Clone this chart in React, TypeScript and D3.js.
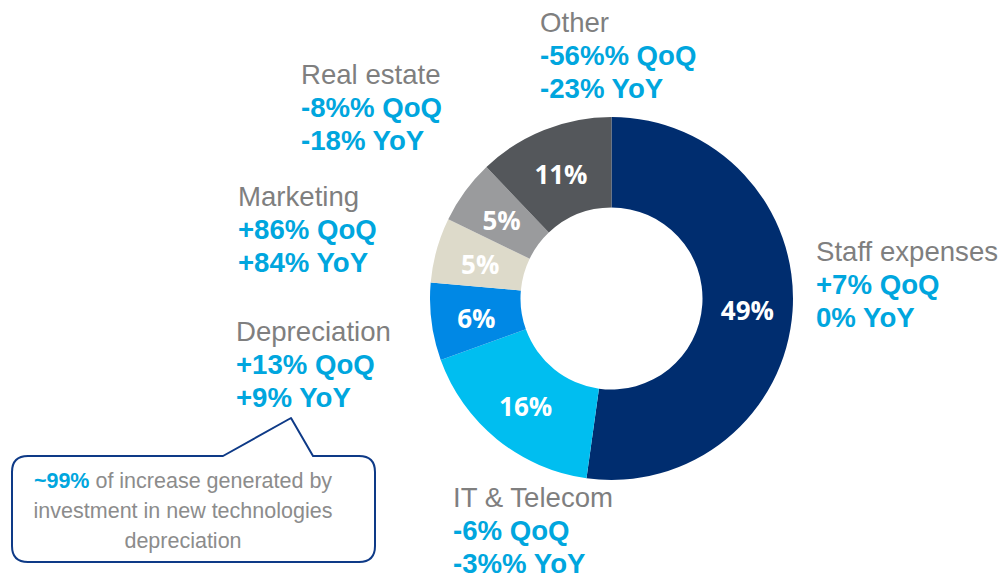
import React from "react";
import * as d3 from "d3";

const categories = ["Staff expenses", "IT & Telecom", "Depreciation", "Marketing", "Real estate", "Other"];
const shares = [52.2, 17.3, 6.9, 5.8, 5.7, 12.1];
const shareLabels = ["49%", "16%", "6%", "5%", "5%", "11%"];
const qoq = ["+7% QoQ", "-6% QoQ", "+13% QoQ", "+86% QoQ", "-8%% QoQ", "-56%% QoQ"];
const yoy = ["0% YoY", "-3%% YoY", "+9% YoY", "+84% YoY", "-18% YoY", "-23% YoY"];
const sliceColors = ["#002D6F", "#00BEF0", "#0088E5", "#DDDACA", "#9A9B9D", "#54575B"];

const calloutBold = "~99%";
const calloutLines = [" of increase generated by", "investment in new technologies", "depreciation"];

// layout (left anchor and first baseline of each label block)
const labelPos: [number, number][] = [
  [816, 261],
  [453, 507],
  [236, 341],
  [238, 206],
  [301, 84],
  [540, 32],
];

const W = 1004;
const H = 576;
const cx = 611.5;
const cy = 298.5;
const rOuter = 181.5;
const rInner = 91;

const GRAY = "#7F7F7F";
const BLUE = "#00A6DE";

export default function App() {
  const pie = d3
    .pie<number>()
    .sort(null)
    .value((d) => d)
    .startAngle(0)
    .endAngle(2 * Math.PI);
  const arcs = pie(shares);
  const arc = d3.arc<d3.PieArcDatum<number>>().innerRadius(rInner).outerRadius(rOuter);

  const lh = 33;
  const fontMain = "'Liberation Sans', Arial, sans-serif";

  // callout geometry
  const bx = 12, by = 456, bw = 363, bh = 106, br = 16;
  const p1 = 223, p2 = 313, apx = 291, apy = 418;
  const calloutPath =
    `M ${bx + br} ${by} L ${p1} ${by} L ${apx} ${apy} L ${p2} ${by} L ${bx + bw - br} ${by} ` +
    `Q ${bx + bw} ${by} ${bx + bw} ${by + br} L ${bx + bw} ${by + bh - br} ` +
    `Q ${bx + bw} ${by + bh} ${bx + bw - br} ${by + bh} L ${bx + br} ${by + bh} ` +
    `Q ${bx} ${by + bh} ${bx} ${by + bh - br} L ${bx} ${by + br} Q ${bx} ${by} ${bx + br} ${by} Z`;

  return (
    <svg
      width={W}
      height={H}
      style={{ position: "absolute", left: 0, top: 0, display: "block", background: "#fff" }}
    >
      <g transform={`translate(${cx},${cy})`}>
        {arcs.map((a, i) => (
          <path key={i} d={arc(a) || ""} fill={sliceColors[i]} />
        ))}
        {arcs.map((a, i) => {
          const [x, y] = arc.centroid(a);
          return (
            <text
              key={"l" + i}
              x={x}
              y={y + 2}
              textAnchor="middle"
              dominantBaseline="central"
              fill="#fff"
              fontFamily="'Open Sans', sans-serif"
              fontWeight={700}
              fontSize={26}
            >
              {shareLabels[i]}
            </text>
          );
        })}
      </g>

      {categories.map((c, i) => {
        const [x, y] = labelPos[i];
        return (
          <g key={"t" + i} fontFamily={fontMain} fontSize={27.6}>
            <text x={x} y={y} fill={GRAY}>
              {c}
            </text>
            <text x={x} y={y + lh} fill={BLUE} fontWeight={700}>
              {qoq[i]}
            </text>
            <text x={x} y={y + 2 * lh} fill={BLUE} fontWeight={700}>
              {yoy[i]}
            </text>
          </g>
        );
      })}

      <path d={calloutPath} fill="#fff" stroke="#0E3A87" strokeWidth={2} strokeLinejoin="round" />
      <g fontFamily={fontMain} fontSize={21.5} textAnchor="middle" fill="#8C8C8C">
        <text x={183} y={488}>
          <tspan fill={BLUE} fontWeight={700}>
            {calloutBold}
          </tspan>
          <tspan>{calloutLines[0]}</tspan>
        </text>
        <text x={183} y={518}>
          {calloutLines[1]}
        </text>
        <text x={183} y={548}>
          {calloutLines[2]}
        </text>
      </g>
    </svg>
  );
}
